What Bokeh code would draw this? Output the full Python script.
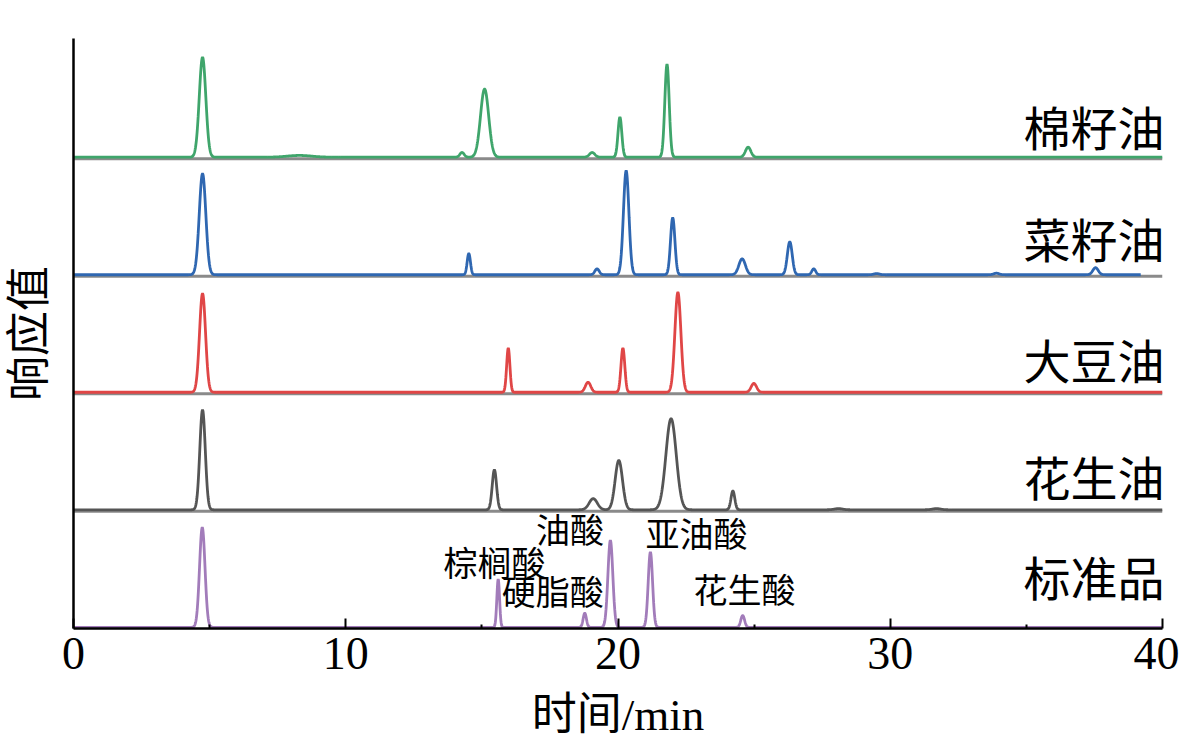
import numpy as np
from bokeh.plotting import figure
from bokeh.models import Range1d, FixedTicker, Label
from bokeh.embed import file_html
from bokeh.resources import INLINE
from bokeh.core.properties import value

# ---------------- data ----------------
oil_names = ["棉籽油", "菜籽油", "大豆油", "花生油", "标准品"]
oil_colors = ["#3fa56b", "#2f67b1", "#e04646", "#555555", "#a27cba"]
oil_offsets = [400, 300, 200, 100, 0]
oil_end = [40.0, 39.2, 40.0, 40.0, 40.0]

# retention time (min), peak height (response), peak width (sigma, min)
cotton_rt = [4.74, 8.3, 14.27, 15.10, 19.05, 20.07, 21.80, 24.78]
cotton_h = [85, 1.5, 4, 58, 4, 34, 79, 8.5]
cotton_w = [0.12, 0.45, 0.08, 0.15, 0.10, 0.07, 0.08, 0.10]

rapeseed_rt = [4.74, 14.52, 19.23, 20.30, 22.01, 24.56, 26.31, 27.19, 29.5, 33.9, 37.54]
rapeseed_h = [86, 18, 5, 88.5, 48.5, 13.5, 28, 5, 1, 1.3, 6]
rapeseed_w = [0.12, 0.06, 0.08, 0.10, 0.08, 0.12, 0.09, 0.07, 0.1, 0.1, 0.1]

soybean_rt = [4.74, 15.97, 18.90, 20.18, 22.20, 24.99]
soybean_h = [84, 37.5, 8.5, 37.5, 85, 7.5]
soybean_w = [0.11, 0.06, 0.10, 0.07, 0.11, 0.10]

peanut_rt = [4.74, 15.46, 19.09, 20.03, 21.95, 24.22, 28.1, 31.7]
peanut_h = [85, 34, 9.5, 42, 77.5, 16, 1, 1]
peanut_w = [0.10, 0.08, 0.15, 0.135, 0.19, 0.07, 0.15, 0.15]

standard_rt = [4.73, 15.60, 18.78, 19.72, 21.19, 24.58]
standard_h = [85, 41, 12, 74, 64, 10]
standard_w = [0.10, 0.05, 0.06, 0.09, 0.08, 0.07]

peak_tables = [
    (cotton_rt, cotton_h, cotton_w),
    (rapeseed_rt, rapeseed_h, rapeseed_w),
    (soybean_rt, soybean_h, soybean_w),
    (peanut_rt, peanut_h, peanut_w),
    (standard_rt, standard_h, standard_w),
]

fa_names = ["棕榈酸", "硬脂酸", "油酸", "亚油酸", "花生酸"]
x_ticks = [0, 10, 20, 30, 40]
x_minor_ticks = [5, 15, 25, 35]
x_title = "时间/min"
y_title = "响应值"

# ---------------- layout / style ----------------
fa_label_x = [15.46, 17.60, 18.24, 22.88, 24.65]
fa_label_y = [55.6, 31.5, 84.0, 81.0, 33.0]
oil_label_y = [427, 332, 229, 129, 44]

CJK = "Noto Sans CJK SC"
SERIF = "Liberation Serif"
MIXED = "Liberation Serif, Noto Sans CJK SC"

p = figure(width=1179, height=743, output_backend="svg", toolbar_location=None,
           x_range=Range1d(0, 40), y_range=Range1d(-1, 501),
           min_border_left=73, min_border_right=17, min_border_top=38,
           min_border_bottom=115)
p.outline_line_color = None
p.grid.visible = False
p.background_fill_color = "white"
p.border_fill_color = "white"

for (rt, h, w), col, off, end in zip(peak_tables, oil_colors, oil_offsets, oil_end):
    t = np.arange(0.0, end + 1e-9, 0.01)
    y = np.zeros_like(t)
    for r, hh, ww in zip(rt, h, w):
        y += hh * np.exp(-0.5 * ((t - r) / ww) ** 2)
    if off > 0:
        p.line([0, 40], [off - 1.3, off - 1.3], line_color="#8a8a8a", line_width=3)
    p.line(t, y + off, line_color=col, line_width=2.8)

p.text(x=fa_label_x, y=fa_label_y, text=fa_names, text_font=value(CJK),
       text_font_size="34px", text_align="center", text_baseline="middle",
       text_color="black")

for name, ly in zip(oil_names, oil_label_y):
    p.add_layout(Label(x=40, y=ly, x_offset=2, text=name, text_font=CJK,
                       text_font_size="47px", text_align="right",
                       text_baseline="middle", text_color="black"))

xa = p.xaxis[0]
xa.ticker = FixedTicker(ticks=x_ticks, minor_ticks=x_minor_ticks)
xa.axis_line_width = 2.5
xa.axis_line_color = "black"
xa.major_tick_in = 10
xa.major_tick_out = 0
xa.minor_tick_in = 4
xa.minor_tick_out = 0
xa.major_tick_line_width = 2
xa.minor_tick_line_width = 2
xa.major_label_text_font = SERIF
xa.major_label_text_font_size = "46px"
xa.major_label_text_color = "black"
xa.major_label_standoff = 9
xa.axis_label = x_title
xa.axis_label_text_font = MIXED
xa.axis_label_text_font_style = "normal"
xa.axis_label_text_font_size = "45px"
xa.axis_label_text_color = "black"
xa.axis_label_standoff = 18

ya = p.yaxis[0]
ya.ticker = FixedTicker(ticks=[])
ya.axis_line_width = 2.5
ya.axis_line_color = "black"
ya.major_tick_in = 0
ya.major_tick_out = 0
ya.minor_tick_in = 0
ya.minor_tick_out = 0
ya.major_label_text_font_size = "0px"
ya.axis_label = y_title
ya.axis_label_text_font = MIXED
ya.axis_label_text_font_style = "normal"
ya.axis_label_text_font_size = "45px"
ya.axis_label_text_color = "black"
ya.axis_label_standoff = 19

open("out.html", "w").write(file_html(p, INLINE))
